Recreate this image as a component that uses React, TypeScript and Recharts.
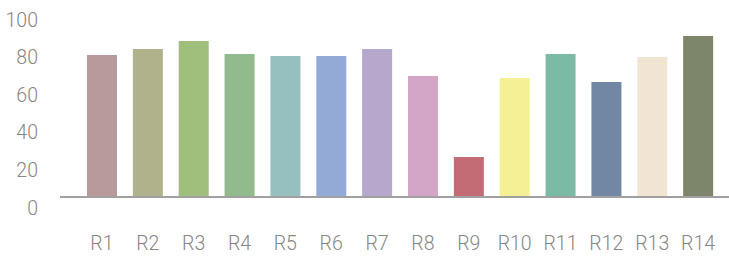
import React from "react";
import { BarChart, Bar, XAxis, YAxis, Cell } from "recharts";

const categories = ["R1", "R2", "R3", "R4", "R5", "R6", "R7", "R8", "R9", "R10", "R11", "R12", "R13", "R14"];
const values = [75.5, 78.7, 83.0, 76.1, 75.0, 75.0, 78.7, 64.4, 21.3, 63.3, 76.1, 61.2, 74.5, 85.6];
const colors = ["#b89a9c", "#b0b28c", "#a1bf7c", "#91ba8d", "#96c0bf", "#94aad6", "#b5a8cc", "#d3a6c8", "#c46c75", "#f5f095", "#7bbba5", "#7287a3", "#f1e4d3", "#7d866a"];
const yTicks = [0, 20, 40, 60, 80, 100];

const data = categories.map((c, i) => ({ name: c, value: values[i] }));

const FONT = "Roboto, sans-serif";

const YTick = (props: any) => {
  const { x, y, payload } = props;
  return (
    <text x={x - 22} y={y + 11} textAnchor="end" dominantBaseline="central" fill="#858585" fontSize={19.5} fontWeight={300} fontFamily={FONT}>
      {payload.value}
    </text>
  );
};

const XTick = (props: any) => {
  const { x, y, payload } = props;
  return (
    <text x={x} y={y + 46} textAnchor="middle" dominantBaseline="central" fill="#858585" fontSize={19.5} fontWeight={300} fontFamily={FONT}>
      {payload.value}
    </text>
  );
};

export default function App() {
  return (
    <div style={{ position: "absolute", left: 0, top: 0, width: 729, height: 257, background: "#fff" }}>
      <BarChart width={729} height={257} data={data} margin={{ top: 9, right: 0, bottom: 0, left: 0 }}>
        <XAxis
          dataKey="name"
          height={60}
          padding={{ left: 19, right: 8 }}
          tickLine={false}
          tickSize={0}
          tickMargin={0}
          axisLine={{ stroke: "#a0a0a0", strokeWidth: 2 }}
          tick={<XTick />}
          interval={0}
        />
        <YAxis
          width={60}
          domain={[0, 100]}
          ticks={yTicks}
          axisLine={false}
          tickLine={false}
          tickSize={0}
          tickMargin={0}
          tick={<YTick />}
        />
        <Bar dataKey="value" barSize={30} isAnimationActive={false}>
          {data.map((d, i) => (
            <Cell key={d.name} fill={colors[i]} />
          ))}
        </Bar>
      </BarChart>
    </div>
  );
}
